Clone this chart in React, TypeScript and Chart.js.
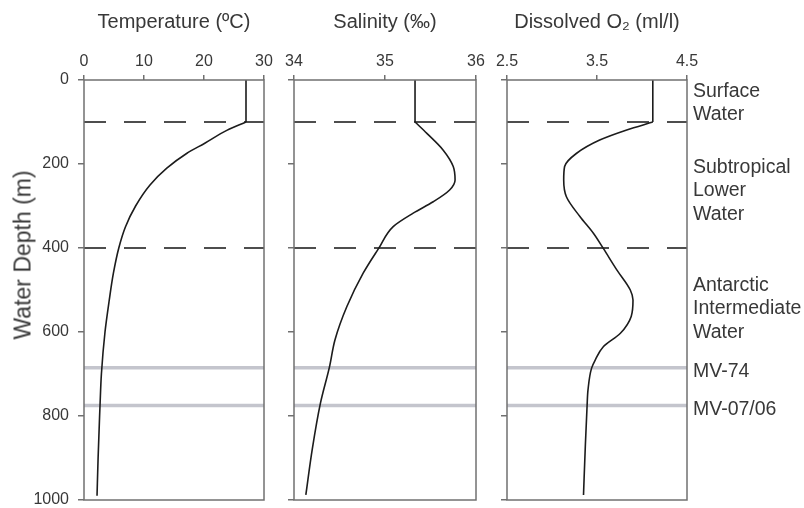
import React, { useEffect, useRef } from 'react';
import { Chart, registerables } from 'chart.js';

Chart.register(...registerables);

// ---------- data ----------
const depthTicks = [0, 200, 400, 600, 800, 1000];
const zoneBoundaries = [100, 400];
const sampleDepths = [685, 775];
const sampleNames = ['MV-74', 'MV-07/06'];
const waterMasses = ['Surface Water', 'Subtropical Lower Water', 'Antarctic Intermediate Water'];
const waterMassTop = [0, 100, 400];
const waterMassBottom = [100, 400, 685];
const surfaceDepths = [0, 100];

const tempTicks = [0, 10, 20, 30];
const tempSurface = 27;
const tempDepths = [100, 120, 150, 175, 210, 250, 300, 350, 400, 460, 525, 600, 700, 775, 800, 900, 990];
const tempValues = [27, 23.8, 20.2, 17.1, 13.8, 11, 8.6, 6.9, 5.8, 4.9, 4.2, 3.5, 2.9, 2.67, 2.6, 2.35, 2.17];

const salTicks = [34, 35, 36];
const salSurface = 35.33;
const salDepths = [100, 127, 167, 206, 238, 262, 290, 317, 349, 401, 460, 540, 619, 683, 770, 880, 988];
const salValues = [35.33, 35.46, 35.64, 35.75, 35.77, 35.71, 35.53, 35.31, 35.09, 34.93, 34.76, 34.58, 34.45, 34.39, 34.29, 34.2, 34.13];

const oxyTicks = [2.5, 3.5, 4.5];
const oxySurface = 4.12;
const oxyDepths = [100, 119, 143, 175, 206, 238, 278, 325, 365, 401, 452, 500, 524, 563, 603, 635, 667, 686, 738, 775, 873, 988];
const oxyValues = [4.12, 3.83, 3.53, 3.27, 3.14, 3.13, 3.16, 3.31, 3.46, 3.57, 3.72, 3.87, 3.9, 3.88, 3.76, 3.57, 3.48, 3.44, 3.4, 3.39, 3.37, 3.35];

// ---------- styles ----------
const FONT = 'Arial, "Liberation Sans", Helvetica, sans-serif';
const TEXT = '#383838';
const FRAME = '#707070';
const CURVE = '#1c1c1c';
const DASH = '#4e4e4e';
const GREY = '#c4c5cd';
const LABEL_NUDGE = [2, 6, 1];

const framePlugin = {
  id: 'frame',
  afterDatasetsDraw(chart: any) {
    const { ctx, chartArea } = chart;
    ctx.save();
    ctx.strokeStyle = FRAME;
    ctx.lineWidth = 1.5;
    ctx.strokeRect(chartArea.left, chartArea.top, chartArea.right - chartArea.left, chartArea.bottom - chartArea.top);
    ctx.restore();
  },
};

const labelsPlugin = {
  id: 'massLabels',
  afterDraw(chart: any) {
    const { ctx, chartArea } = chart;
    const y = chart.scales.y;
    ctx.save();
    ctx.font = `19.5px ${FONT}`;
    ctx.fillStyle = TEXT;
    ctx.textAlign = 'left';
    ctx.textBaseline = 'middle';
    const x = chartArea.right + 6;
    const lh = 23.5;
    waterMasses.forEach((name, i) => {
      const lines = name.split(' ');
      const c = (y.getPixelForValue(waterMassTop[i]) + y.getPixelForValue(waterMassBottom[i])) / 2 + LABEL_NUDGE[i];
      lines.forEach((ln, j) => ctx.fillText(ln, x, c + (j - (lines.length - 1) / 2) * lh));
    });
    sampleNames.forEach((n, i) => ctx.fillText(n, x, y.getPixelForValue(sampleDepths[i]) + 4));
    ctx.restore();
  },
};

type PanelSpec = {
  left: number;
  width: number;
  min: number;
  max: number;
  ticks: number[];
  title: string;
  surface: number;
  depths: number[];
  values: number[];
  showY: boolean;
  yAxisWidth: number;
  padRight: number;
  labels: boolean;
};

const panels: PanelSpec[] = [
  { left: 0, width: 280, min: 0, max: 30, ticks: tempTicks, title: 'Temperature (ºC)', surface: tempSurface, depths: tempDepths, values: tempValues, showY: true, yAxisWidth: 84, padRight: 16, labels: false },
  { left: 280, width: 212, min: 34, max: 36, ticks: salTicks, title: 'Salinity (‰)', surface: salSurface, depths: salDepths, values: salValues, showY: false, yAxisWidth: 14, padRight: 16, labels: false },
  { left: 492, width: 312, min: 2.5, max: 4.5, ticks: oxyTicks, title: 'Dissolved O₂ (ml/l)', surface: oxySurface, depths: oxyDepths, values: oxyValues, showY: false, yAxisWidth: 15, padRight: 117, labels: true },
];

function buildConfig(p: PanelSpec): any {
  const curveData = p.depths.map((d, i) => ({ x: p.values[i], y: d }));
  const surfaceData = surfaceDepths.map((d) => ({ x: p.surface, y: d }));
  const datasets: any[] = [
    { data: surfaceData, borderColor: CURVE, borderWidth: 1.6, tension: 0, pointRadius: 0 },
    { data: curveData, borderColor: CURVE, borderWidth: 1.6, cubicInterpolationMode: 'monotone', pointRadius: 0 },
    ...zoneBoundaries.map((b) => ({
      data: [{ x: p.min, y: b }, { x: p.max, y: b }],
      borderColor: DASH, borderWidth: 2, borderDash: [22, 18], pointRadius: 0,
    })),
    ...sampleDepths.map((s) => ({
      data: [{ x: p.min, y: s }, { x: p.max, y: s }],
      borderColor: GREY, borderWidth: 3.5, pointRadius: 0,
    })),
  ];
  return {
    type: 'line',
    data: { datasets },
    options: {
      responsive: false,
      animation: false,
      indexAxis: 'y',
      layout: { padding: { left: 0, top: 0, right: p.padRight, bottom: 8 } },
      plugins: { legend: { display: false }, tooltip: { enabled: false } },
      scales: {
        x: {
          type: 'linear',
          position: 'top',
          min: p.min,
          max: p.max,
          afterBuildTicks: (s: any) => { s.ticks = p.ticks.map((v) => ({ value: v })); },
          afterFit: (s: any) => { s.height = 80; s.paddingLeft = 0; s.paddingRight = 0; },
          ticks: { callback: (v: any) => String(v), font: { family: FONT, size: 16 }, color: TEXT, padding: 4, maxRotation: 0, autoSkip: false },
          grid: { drawOnChartArea: false, tickLength: 5, color: FRAME, lineWidth: 1.5 },
          border: { display: false },
          title: { display: true, text: p.title, font: { family: FONT, size: 20 }, color: TEXT, padding: { top: 10, bottom: 0 } },
        },
        y: {
          type: 'linear',
          reverse: true,
          min: 0,
          max: 1000,
          afterBuildTicks: (s: any) => { s.ticks = depthTicks.map((v) => ({ value: v })); },
          afterFit: (s: any) => { s.width = p.yAxisWidth; s.paddingTop = 0; s.paddingBottom = 0; },
          ticks: { display: p.showY, callback: (v: any) => String(v), font: { family: FONT, size: 16 }, color: TEXT, padding: 9, autoSkip: false },
          grid: { drawOnChartArea: false, tickLength: 6, color: FRAME, lineWidth: 1.5 },
          border: { display: false },
        },
      },
    },
    plugins: p.labels ? [framePlugin, labelsPlugin] : [framePlugin],
  };
}

export default function App() {
  const refs = [useRef<HTMLCanvasElement>(null), useRef<HTMLCanvasElement>(null), useRef<HTMLCanvasElement>(null)];
  useEffect(() => {
    const charts = panels.map((p, i) => new Chart(refs[i].current as HTMLCanvasElement, buildConfig(p)));
    return () => charts.forEach((c) => c.destroy());
  }, []);
  return (
    <div style={{ position: 'fixed', left: 0, top: 0, width: 804, height: 508, background: '#fff', overflow: 'hidden' }}>
      {panels.map((p, i) => (
        <canvas
          key={i}
          ref={refs[i]}
          width={p.width}
          height={508}
          style={{ position: 'absolute', left: p.left, top: 0, width: p.width, height: 508, display: 'block' }}
        />
      ))}
      <div
        style={{
          position: 'absolute', left: 23, top: 255, transform: 'translate(-50%, -50%) rotate(-90deg)',
          whiteSpace: 'nowrap', fontFamily: FONT, fontSize: 23, color: TEXT,
        }}
      >
        Water Depth (m)
      </div>
    </div>
  );
}
